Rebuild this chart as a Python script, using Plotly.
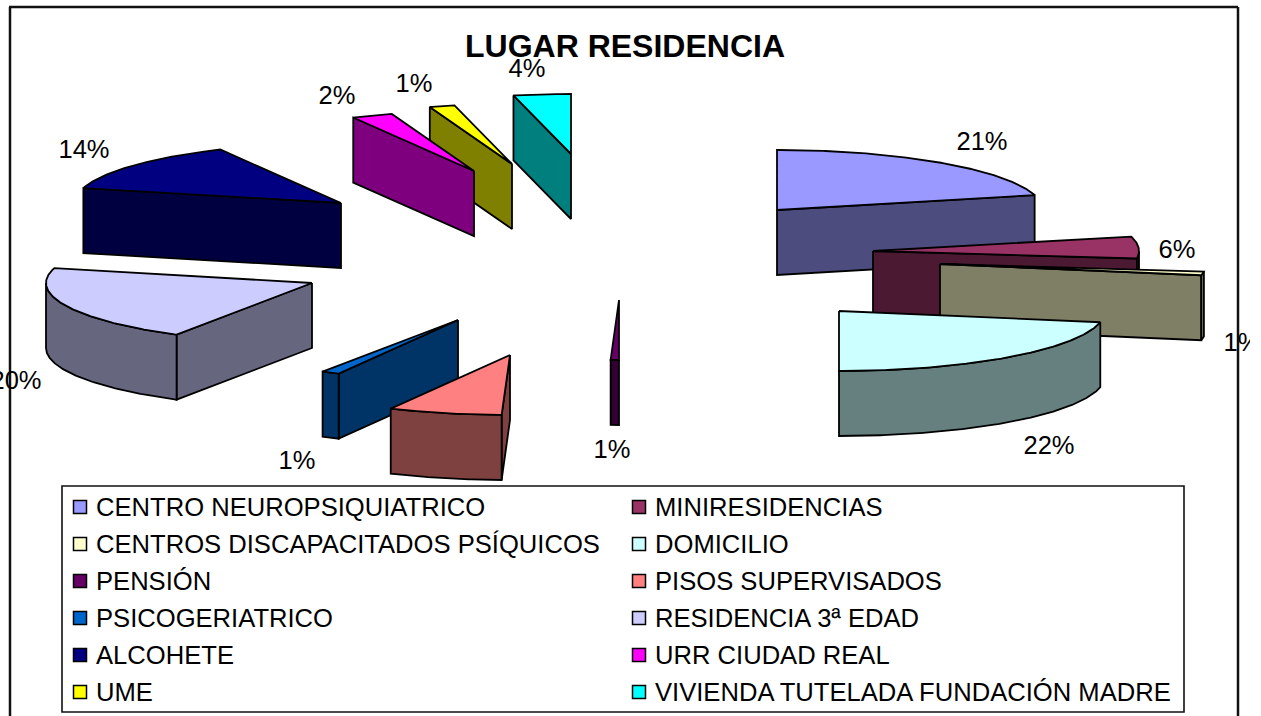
import numpy as np
import plotly.graph_objects as go

# ---- data ----
categories = ["CENTRO NEUROPSIQUIATRICO", "MINIRESIDENCIAS", "CENTROS DISCAPACITADOS PSÍQUICOS",
              "DOMICILIO", "PENSIÓN", "PISOS SUPERVISADOS", "PSICOGERIATRICO", "RESIDENCIA 3ª EDAD",
              "ALCOHETE", "URR CIUDAD REAL", "UME", "VIVIENDA TUTELADA FUNDACIÓN MADRE"]
values = [21.0, 6.0, 1.0, 22.0, 0.5, 6.9, 1.1, 20.5, 13.5, 2.5, 1.53, 3.47]
pct_labels = ["21%", "6%", "1%", "22%", "1%", "", "1%", "20%", "14%", "2%", "1%", "4%"]

# ---- styling / layout ----
W, H = 1261, 716
top_colors = ["#9999FF", "#993366", "#FFFFCC", "#CCFFFF", "#660066", "#FF8080",
              "#0066CC", "#CCCCFF", "#000080", "#FF00FF", "#FFFF00", "#00FFFF"]
RX, RY, DEPTH = 266, 60, 65
# where each exploded slice's tip ends up (Excel's per-slice explosion)
tip_x = [777, 873, 940, 839, 619, 510, 458, 312, 341, 474, 512, 571]
tip_y = [210, 251, 264, 311, 300, 355, 320, 283, 203, 171, 164, 154]
label_x = [982, 1177, 1242, 1049, 612, 0, 297, 16, 84, 337, 414, 527]
label_y = [144, 252, 345, 448, 452, 0, 463, 383, 152, 98, 86, 71]
draw_order = [11, 10, 9, 8, 7, 6, 5, 4, 0, 1, 2, 3]
FONT = "Liberation Sans"


def darker(c):
    r, g, b = (int(c[i:i + 2], 16) for i in (1, 3, 5))
    return f"rgb({r // 2},{g // 2},{b // 2})"


def arc(cx, cy, a0, a1):
    t = np.radians(np.linspace(a0, a1, max(3, int(abs(a1 - a0) * 2) + 1)))
    return cx + RX * np.sin(t), cy - RY * np.cos(t)


def poly(fig, x, y, color):
    fig.add_trace(go.Scatter(x=list(x) + [x[0]], y=list(y) + [y[0]], mode="lines", fill="toself",
                             fillcolor=color, line=dict(color="black", width=1.8),
                             hoverinfo="skip", showlegend=False))


fig = go.Figure()
cum = np.concatenate([[0], np.cumsum(values)]) / np.sum(values) * 360

for i in draw_order:
    a0, a1 = cum[i], cum[i + 1]
    cx, cy = tip_x[i], tip_y[i]
    side = darker(top_colors[i])
    # radial walls turned toward the viewer
    if a0 > 180:
        px, py = arc(cx, cy, a0, a0)
        poly(fig, [cx, px[0], px[0], cx], [cy, py[0], py[0] + DEPTH, cy + DEPTH], side)
    if a1 < 180:
        px, py = arc(cx, cy, a1, a1)
        poly(fig, [cx, px[0], px[0], cx], [cy, py[0], py[0] + DEPTH, cy + DEPTH], side)
    # outer rim, front half only
    lo, hi = max(a0, 90), min(a1, 270)
    if lo < hi:
        px, py = arc(cx, cy, lo, hi)
        poly(fig, np.concatenate([px, px[::-1]]), np.concatenate([py, py[::-1] + DEPTH]), side)
    # top face
    px, py = arc(cx, cy, a0, a1)
    poly(fig, np.concatenate([[cx], px]), np.concatenate([[cy], py]), top_colors[i])

# percentage labels
for k, t in enumerate(pct_labels):
    if t:
        fig.add_trace(go.Scatter(x=[label_x[k]], y=[label_y[k]], mode="text", text=[t],
                                 textposition="middle center", textfont=dict(family=FONT, size=25.5, color="#000"),
                                 hoverinfo="skip", showlegend=False))

# chart-area clip: text is cut off beyond the right side
fig.add_trace(go.Scatter(x=[1250, W, W, 1250, 1250], y=[300, 300, 400, 400, 300], mode="lines", fill="toself",
                         fillcolor="white", line=dict(color="white", width=0), hoverinfo="skip", showlegend=False))

# legend: two columns, row-wise
row_y = [507, 544, 581, 618, 655, 692]
col_sw = [80, 639]
col_tx = [94, 653]
annotations = [dict(x=625, y=46, text="<b>LUGAR RESIDENCIA</b>", showarrow=False, xanchor="center", yanchor="middle",
                    font=dict(family=FONT, size=32, color="black"))]
for i, name in enumerate(categories):
    c, r = i % 2, i // 2
    fig.add_trace(go.Scatter(x=[col_sw[c]], y=[row_y[r]], mode="markers",
                             marker=dict(symbol="square", size=13, color=top_colors[i], line=dict(color="black", width=1.5)),
                             hoverinfo="skip", showlegend=False))
    annotations.append(dict(x=col_tx[c], y=row_y[r], text=name, showarrow=False, xanchor="left", yanchor="middle",
                            font=dict(family=FONT, size=25.6, color="#000")))

frame = dict(color="#111", width=2.5)
shapes = [
    dict(type="line", x0=10, x1=10, y0=7, y1=H, line=frame, layer="below"),
    dict(type="line", x0=9, x1=1238, y0=7, y1=7, line=frame, layer="below"),
    dict(type="line", x0=1238, x1=1238, y0=7, y1=H, line=frame, layer="below"),
    dict(type="rect", x0=62, x1=1184, y0=486, y1=712, line=dict(color="#111", width=1.6), layer="below"),
]

fig.update_layout(
    width=W, height=H, margin=dict(l=0, r=0, t=0, b=0), paper_bgcolor="white", plot_bgcolor="white",
    xaxis=dict(range=[0, W], visible=False, fixedrange=True),
    yaxis=dict(range=[H, 0], visible=False, fixedrange=True),
    shapes=shapes, annotations=annotations, showlegend=False,
)
fig.write_html("out.html", config={"displayModeBar": False},
               post_script="document.body.style.margin='0';document.body.style.overflow='hidden';")
